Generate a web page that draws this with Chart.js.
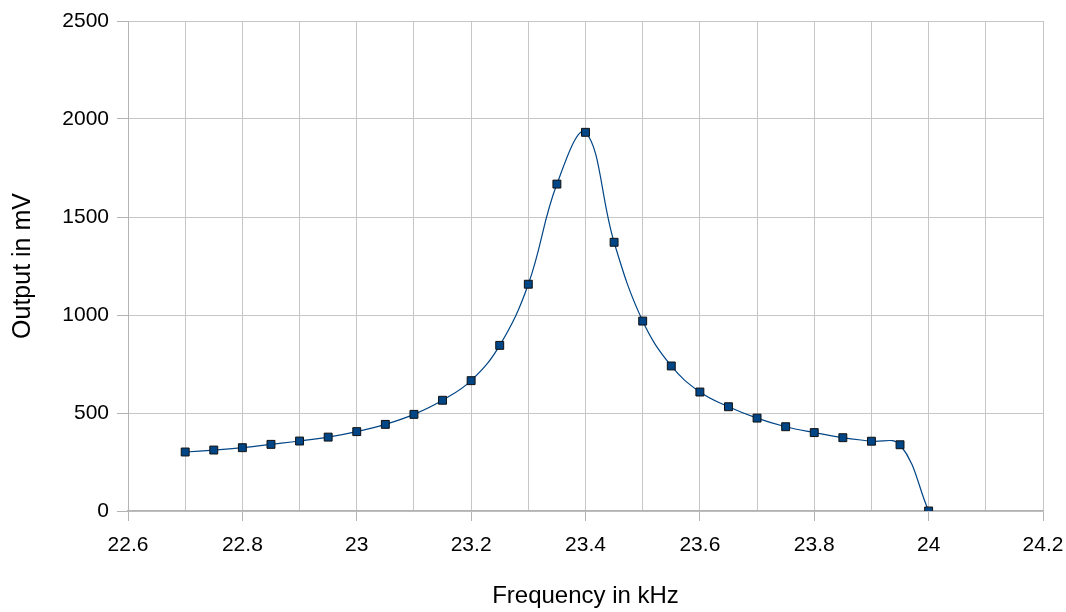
<!DOCTYPE html>
<html>
<head>
<meta charset="utf-8">
<script src="https://cdn.jsdelivr.net/npm/chart.js@4/dist/chart.umd.min.js"></script>
<style>
  html, body { margin: 0; padding: 0; background: #ffffff; }
  #wrap { width: 1066px; height: 612px; }
</style>
</head>
<body>
<div id="wrap"><canvas id="c" width="1066" height="612"></canvas></div>
<script>
// Measured resonance curve: frequency (kHz) vs output (mV)
const frequencies = [22.7, 22.75, 22.8, 22.85, 22.9, 22.95, 23.0, 23.05, 23.1, 23.15,
                     23.2, 23.25, 23.3, 23.35, 23.4, 23.45, 23.5, 23.55, 23.6, 23.65,
                     23.7, 23.75, 23.8, 23.85, 23.9, 23.95, 24.0];
const outputs = [301, 311, 323, 340, 357, 377, 405, 442, 493, 565,
                 665, 845, 1157, 1668, 1932, 1371, 969, 740, 607, 532,
                 474, 430, 400, 374, 356, 338, 0];

// Axis ranges and tick labels
const xRange = [22.6, 24.2];
const xGridStep = 0.1;
const xLabelTicks = [22.6, 22.8, 23, 23.2, 23.4, 23.6, 23.8, 24, 24.2];
const yTicks = [0, 500, 1000, 1500, 2000, 2500];

const points = frequencies.map((f, i) => ({ x: f, y: outputs[i] }));
const isLabelTick = v => xLabelTicks.some(t => Math.abs(t - v) < 1e-6);

const FONT = "'Liberation Sans', Arial, sans-serif";

new Chart(document.getElementById('c'), {
  type: 'line',
  data: {
    datasets: [{
      data: points,
      borderColor: '#004586',
      borderWidth: 1.2,
      tension: 0.4,
      pointStyle: 'rect',
      pointRadius: 5.6,
      pointBackgroundColor: '#004586',
      pointBorderColor: '#111111',
      pointBorderWidth: 1,
      fill: false
    }]
  },
  options: {
    responsive: false,
    animation: false,
    devicePixelRatio: 1,
    layout: { padding: { left: 0, right: 23, top: 21, bottom: 0 } },
    plugins: { legend: { display: false }, tooltip: { enabled: false } },
    scales: {
      x: {
        type: 'linear',
        min: xRange[0],
        max: xRange[1],
        afterFit: s => { s.height = 101; s.paddingLeft = 0; s.paddingRight = 0; },
        afterBuildTicks: s => {
          const ticks = [];
          const n = Math.round((xRange[1] - xRange[0]) / xGridStep);
          for (let i = 0; i <= n; i++) ticks.push({ value: +(xRange[0] + i * xGridStep).toFixed(2) });
          s.ticks = ticks;
        },
        ticks: {
          autoSkip: false,
          maxRotation: 0,
          padding: 12,
          color: '#000000',
          font: { family: FONT, size: 21 },
          callback: v => isLabelTick(v) ? String(Math.round(v * 10) / 10) : ''
        },
        grid: {
          color: '#c6c6c6',
          lineWidth: 1,
          tickLength: 10,
          tickColor: ctx => (ctx.tick && isLabelTick(ctx.tick.value)) ? '#b3b3b3' : 'rgba(0,0,0,0)'
        },
        border: { color: '#b3b3b3', width: 1.5 },
        title: {
          display: true,
          text: 'Frequency in kHz',
          color: '#000000',
          font: { family: FONT, size: 24 },
          padding: { top: 0, bottom: 1 }
        }
      },
      y: {
        min: 0,
        max: 2500,
        afterFit: s => { s.width = 128; },
        afterBuildTicks: s => { s.ticks = yTicks.map(v => ({ value: v })); },
        ticks: {
          padding: 8,
          color: '#000000',
          font: { family: FONT, size: 21 },
          callback: v => String(v)
        },
        grid: {
          color: '#c6c6c6',
          lineWidth: 1,
          tickLength: 11,
          tickColor: '#b3b3b3'
        },
        border: { color: '#b3b3b3', width: 1 },
        title: {
          display: true,
          text: 'Output in mV',
          color: '#000000',
          font: { family: FONT, size: 25 },
          padding: { top: 8, bottom: 0 }
        }
      }
    }
  }
});
</script>
</body>
</html>
